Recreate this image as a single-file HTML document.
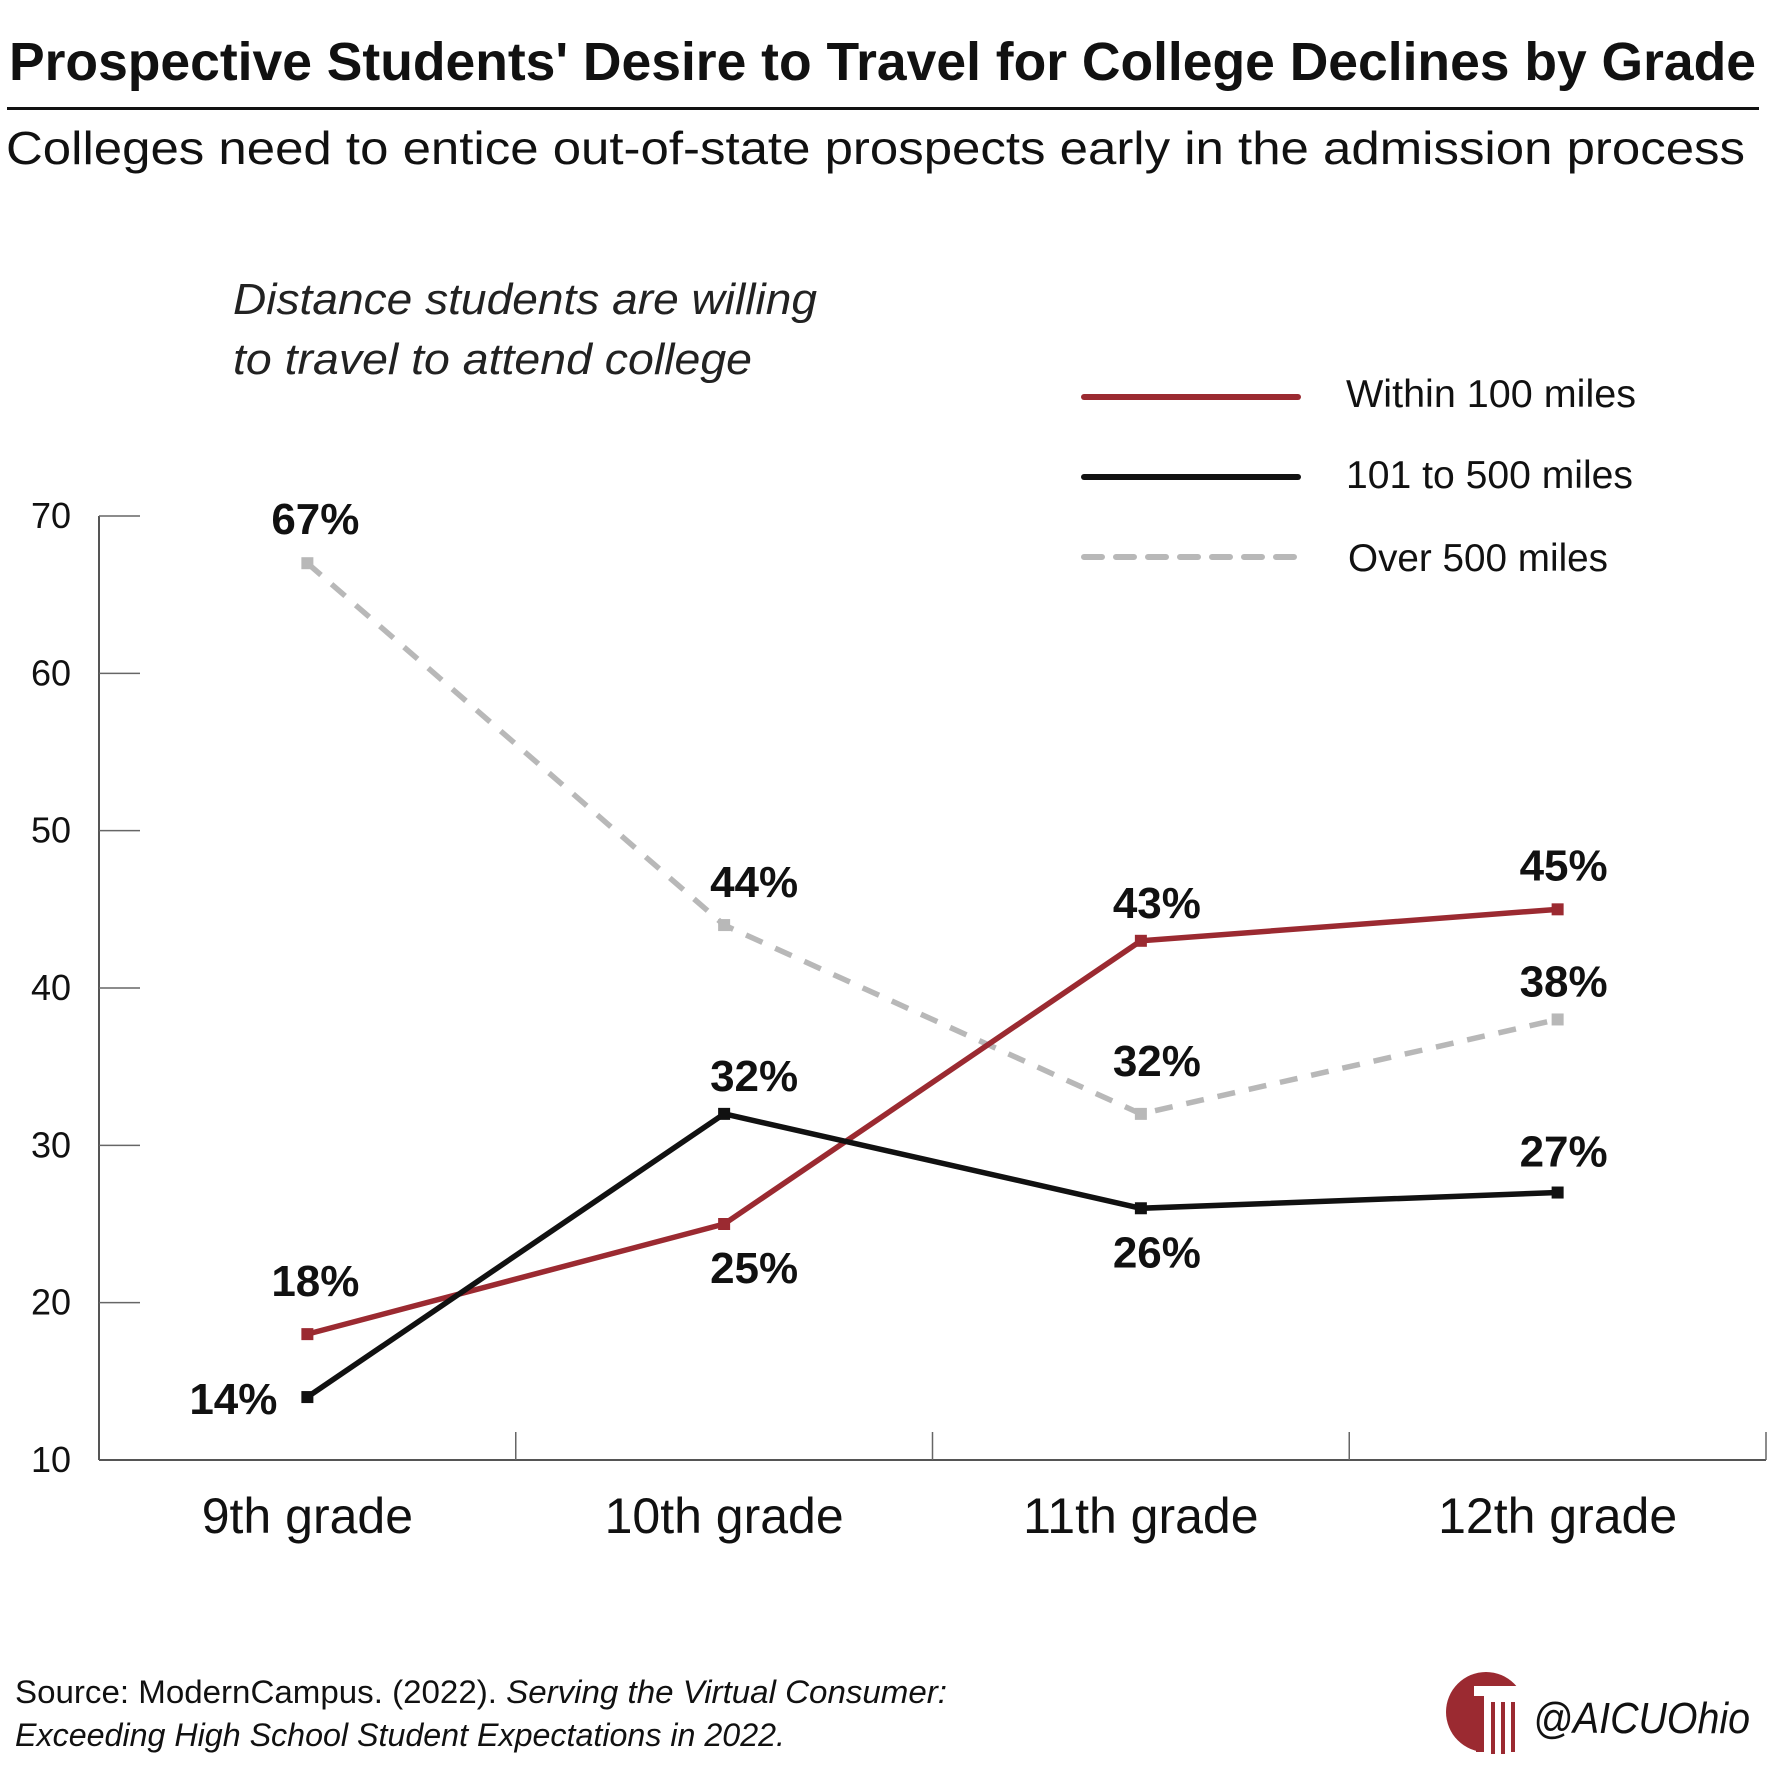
<!DOCTYPE html>
<html><head><meta charset="utf-8"><style>
html,body{margin:0;padding:0;background:#fff;}
svg{display:block;font-family:"Liberation Sans",sans-serif;}
</style></head><body>
<svg id="chart" width="1769" height="1769" viewBox="0 0 1769 1769" xmlns="http://www.w3.org/2000/svg">
<rect width="1769" height="1769" fill="#fff"/>
<text x="9" y="80" font-size="54" font-weight="bold" textLength="1747" lengthAdjust="spacingAndGlyphs" fill="#111">Prospective Students' Desire to Travel for College Declines by Grade</text>
<rect x="7" y="107" width="1752" height="3" fill="#111"/>
<text x="6" y="164" font-size="46" textLength="1739" lengthAdjust="spacingAndGlyphs" fill="#111">Colleges need to entice out-of-state prospects early in the admission process</text>
<text x="233" y="314" font-size="44" font-style="italic" textLength="584" lengthAdjust="spacingAndGlyphs" fill="#222">Distance students are willing</text>
<text x="233" y="374" font-size="44" font-style="italic" textLength="519" lengthAdjust="spacingAndGlyphs" fill="#222">to travel to attend college</text>
<g>
<line x1="1084" y1="397" x2="1298" y2="397" stroke="#9b2a31" stroke-width="6" stroke-linecap="round"/>
<text x="1346" y="407" font-size="39" textLength="290" lengthAdjust="spacingAndGlyphs" fill="#111">Within 100 miles</text>
<line x1="1084" y1="477" x2="1298" y2="477" stroke="#111" stroke-width="6" stroke-linecap="round"/>
<text x="1346" y="488" font-size="39" textLength="287" lengthAdjust="spacingAndGlyphs" fill="#111">101 to 500 miles</text>
<line x1="1084" y1="557" x2="1298" y2="557" stroke="#b8b8b8" stroke-width="6" stroke-linecap="round" stroke-dasharray="18 14"/>
<text x="1348" y="571" font-size="39" textLength="260" lengthAdjust="spacingAndGlyphs" fill="#111">Over 500 miles</text>
</g>
<g id="axes"></g>
<g id="series"></g>
<g id="labels"></g>
<text x="15" y="1703" font-size="32" fill="#111" textLength="932" lengthAdjust="spacingAndGlyphs">Source: ModernCampus. (2022). <tspan font-style="italic">Serving the Virtual Consumer:</tspan></text>
<text x="15" y="1746" font-size="32" font-style="italic" fill="#111" textLength="770" lengthAdjust="spacingAndGlyphs">Exceeding High School Student Expectations in 2022.</text>
<g>
<circle cx="1486" cy="1712" r="40" fill="#9b2a31"/>
<rect x="1474" y="1686" width="54" height="10" fill="#fff"/>
<rect x="1484" y="1696" width="44" height="60" fill="#fff"/>
<rect x="1476" y="1696" width="8" height="56" fill="#9b2a31"/>
<rect x="1491" y="1702" width="4" height="52" fill="#9b2a31"/>
<rect x="1501" y="1702" width="4" height="52" fill="#9b2a31"/>
<rect x="1511" y="1702" width="4" height="50" fill="#9b2a31"/>
</g>
<text x="1533" y="1733" font-size="44" font-style="italic" fill="#111" textLength="217" lengthAdjust="spacingAndGlyphs">@AICUOhio</text>
</svg>
<script>
const categories = ["9th grade","10th grade","11th grade","12th grade"];
const within100 = [18,25,43,45];
const miles101to500 = [14,32,26,27];
const over500 = [67,44,32,38];
const yTicks = [10,20,30,40,50,60,70];

const NS = "http://www.w3.org/2000/svg";
const X0 = 99, X1 = 1766, Y0 = 1460, Y1 = 516, YMIN = 10, YMAX = 70;
const band = (X1 - X0) / categories.length;
function xPos(i){ return X0 + band * (i + 0.5); }
function yPos(v){ return Y0 - (v - YMIN) / (YMAX - YMIN) * (Y0 - Y1); }
function mk(tag, attrs, parent){ const e = document.createElementNS(NS, tag); for (const k in attrs) e.setAttribute(k, attrs[k]); parent.appendChild(e); return e; }

const axes = document.getElementById('axes');
let a = mk('line',{x1:X0,y1:Y1,x2:X0,y2:Y0,stroke:'#555','stroke-width':2},axes);


a = mk('line',{x1:X0,y1:Y0,x2:X1,y2:Y0,stroke:'#555','stroke-width':2},axes);


yTicks.forEach(t => {
  const y = yPos(t);
  if (t !== YMIN) {
    const l = mk('line',{x1:X0,y1:y,x2:X0+41,y2:y,stroke:'#666','stroke-width':1.5},axes);
    
    
  }
  const tx = mk('text',{x:71,y:y+12,'font-size':36,'text-anchor':'end',fill:'#111'},axes);
  tx.textContent = t;
  
  
});
categories.forEach((c,i) => {
  const xb = X0 + band*(i+1);
  const l = mk('line',{x1:xb,y1:Y0-28,x2:xb,y2:Y0,stroke:'#666','stroke-width':1.5},axes);
  
  
  const tx = mk('text',{x:xPos(i),y:1533,'font-size':50,'text-anchor':'middle',fill:'#111'},axes);
  tx.textContent = c;
  
  
});

const seriesG = document.getElementById('series');
const labelsG = document.getElementById('labels');
const seriesList = [
  {name:'over-500', vals:over500, color:'#b8b8b8', dash:'18 14', off:[[8,-44],[30,-43],[16,-53],[6,-38]]},
  {name:'within-100', vals:within100, color:'#9b2a31', dash:null, off:[[8,-53],[30,44],[16,-38],[6,-44]]},
  {name:'101-500', vals:miles101to500, color:'#111', dash:null, off:[[-74,2],[30,-38],[16,44],[6,-41]]}
];
seriesList.forEach(s => {
  const pts = s.vals.map((v,i) => xPos(i)+','+yPos(v)).join(' ');
  const attrs = {points:pts,fill:'none',stroke:s.color,'stroke-width':5.5,'stroke-linejoin':'round'};
  if (s.dash) attrs['stroke-dasharray'] = s.dash;
  const pl = mk('polyline',attrs,seriesG);
  
  
  s.vals.forEach((v,i) => {
    const m = mk('rect',{x:xPos(i)-6,y:yPos(v)-6,width:12,height:12,fill:s.color},seriesG);
    
    
    const t = mk('text',{x:xPos(i)+s.off[i][0],y:yPos(v)+s.off[i][1]+15,'font-size':44,'font-weight':'bold','text-anchor':'middle',fill:'#111'},labelsG);
    t.textContent = v + '%';
    
    
  });
});
</script>
</body></html>
